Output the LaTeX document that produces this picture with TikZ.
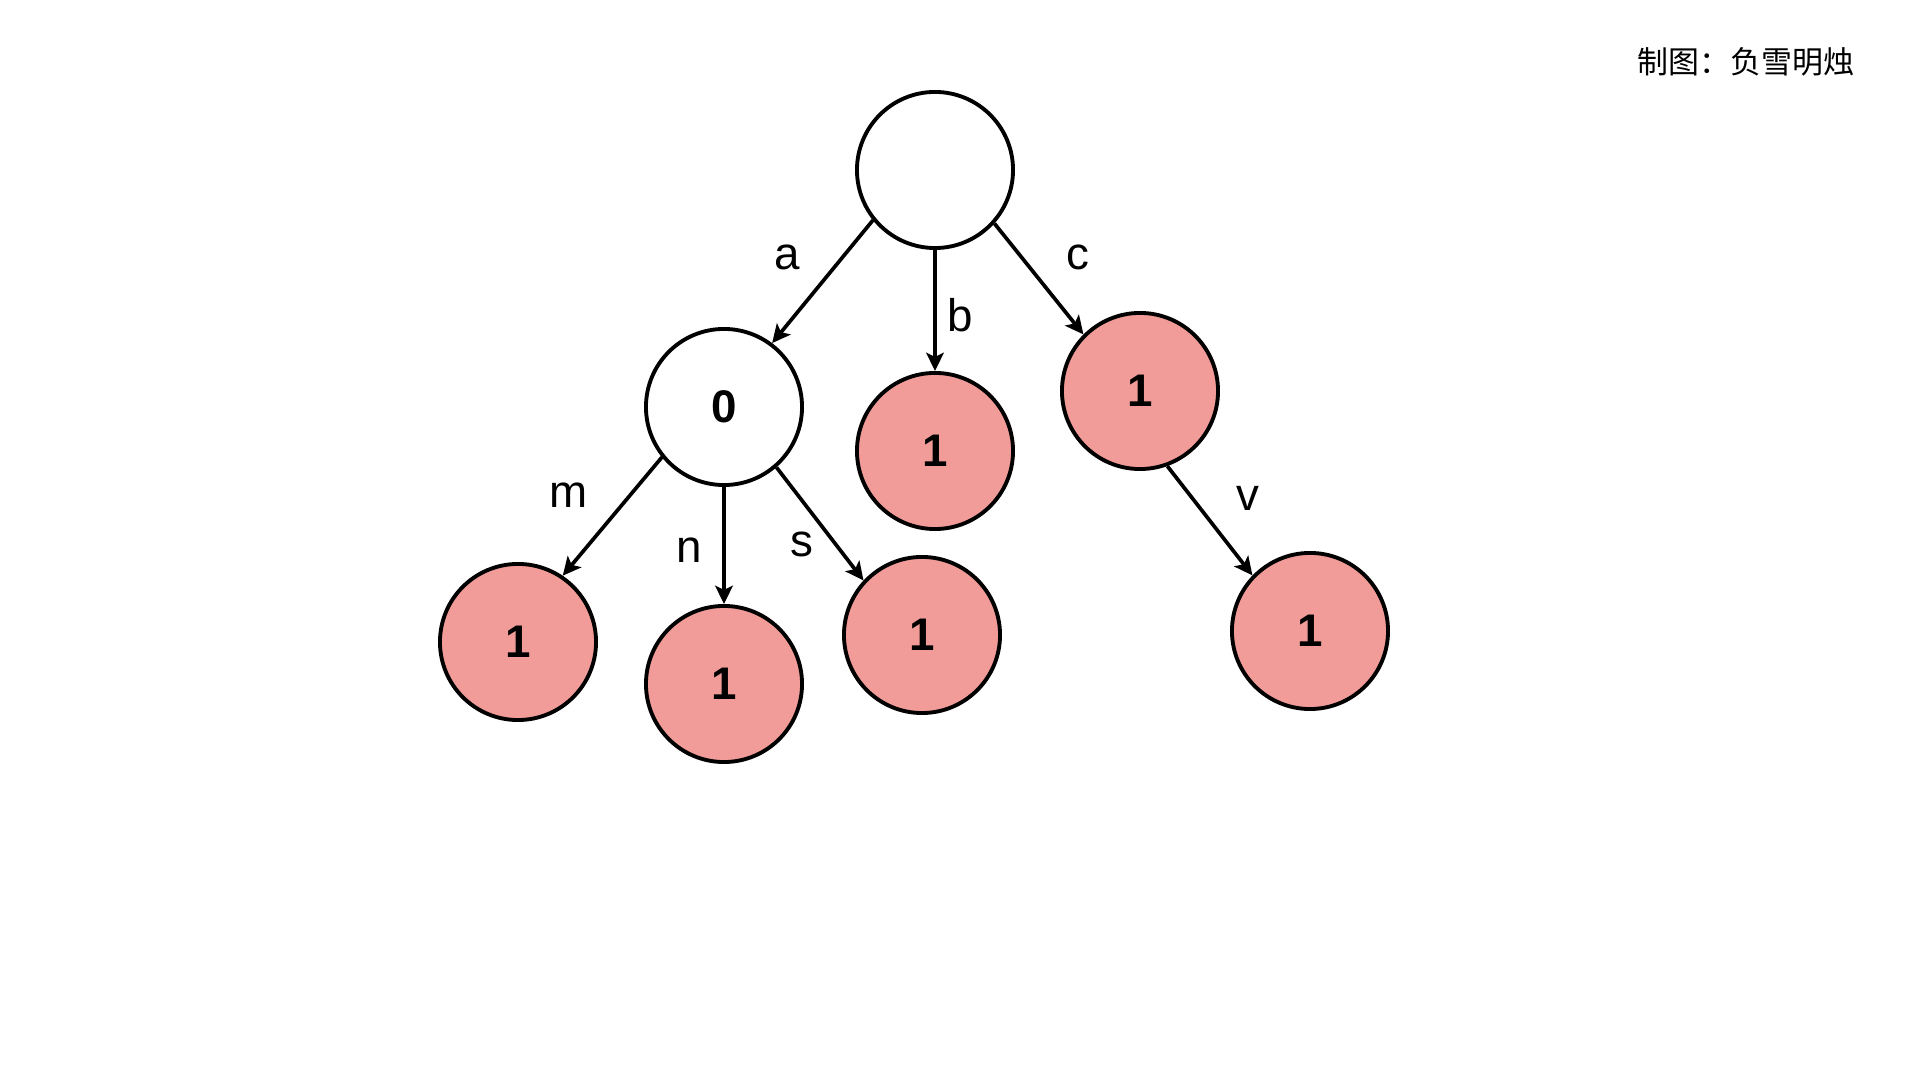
\documentclass[tikz,border=0pt]{standalone}
\usepackage{fontspec}
\setmainfont{Liberation Sans}
\newfontfamily\cjkfont{Noto Sans CJK SC}
\usetikzlibrary{arrows.meta}
\definecolor{endred}{HTML}{F19C99}

\begin{document}
\begin{tikzpicture}[
    x=0.01cm, y=-0.01cm,
    trienode/.style={draw, circle, line width=1.1pt, minimum size=1.56cm, inner sep=0pt, font=\fontsize{13}{14}\selectfont\bfseries},
    endnode/.style={trienode, fill=endred},
    edge/.style={-{Stealth[length=5.2pt, width=5pt, inset=1.2pt]}, line width=1.05pt},
    letter/.style={font=\fontsize{13}{15}\selectfont},
]
\useasboundingbox (0,0) rectangle (1920,1080);

% credit
\node[font=\cjkfont\fontsize{8.8}{10}\selectfont] (credit) at (1746,62) {制图：负雪明烛};

% trie nodes
\node[trienode] (root) at (935,170) {};
\node[trienode] (n0) at (724,407) {0};
\node[endnode] (nb) at (935,451) {1};
\node[endnode] (nc) at (1140,391) {1};
\node[endnode] (nm) at (518,642) {1};
\node[endnode] (nn) at (724,684) {1};
\node[endnode] (ns) at (922,635) {1};
\node[endnode] (nv) at (1310,631) {1};

% edges
\draw[edge] (root.219) -- (n0.53);
\draw[edge] (root.south) -- (nb.north);
\draw[edge] (root.318) -- (nc.135);
\draw[edge] (n0.219) -- (nm.56);
\draw[edge] (n0.south) -- (nn.north);
\draw[edge] (n0.311) -- (ns.137);
\draw[edge] (nc.290) -- (nv.136);

% edge letters
\node[letter] (la) at (787,257) {a};
\node[letter] (lb) at (960,315) {b};
\node[letter] (lc) at (1078,257) {c};
\node[letter] (lm) at (569,495) {m};
\node[letter] (ln) at (689,550) {n};
\node[letter] (ls) at (802,544) {s};
\node[letter] (lv) at (1248,498) {v};
\end{tikzpicture}
\end{document}
